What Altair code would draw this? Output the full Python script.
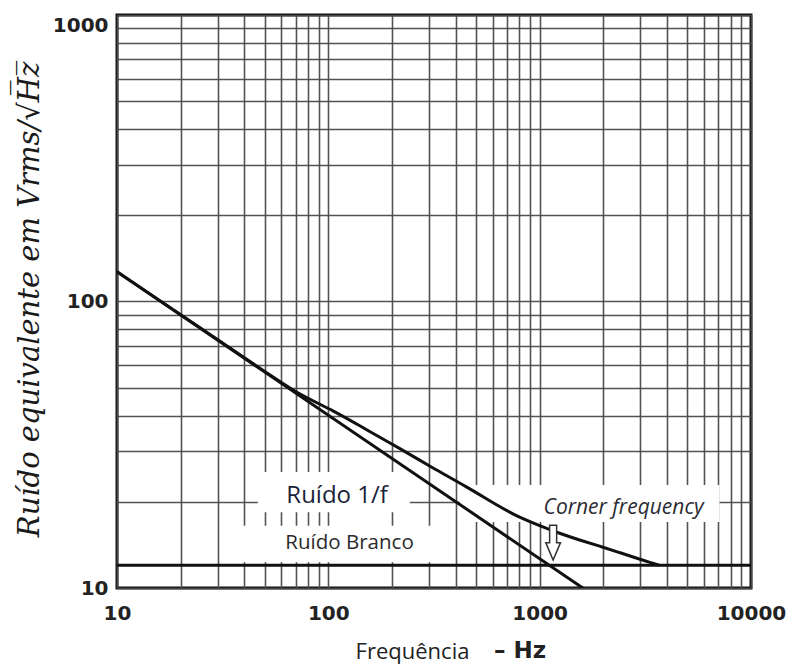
import altair as alt
import pandas as pd

# ---- data ----
x_grid = [10, 20, 30, 40, 50, 60, 70, 80, 90,
          100, 200, 300, 400, 500, 600, 700, 800, 900,
          1000, 2000, 3000, 4000, 5000, 6000, 7000, 8000, 9000, 10000]
y_grid = [10, 20, 30, 40, 50, 60, 70, 80, 90,
          100, 200, 300, 400, 500, 600, 700, 800, 900, 1000]
x_labels = [10, 100, 1000, 10000]
y_labels = [10, 100, 1000]

# 1/f noise line (end points)
flicker_f = [10, 1600]
flicker_v = [127, 10]

# white noise level
white_f = [10, 10000]
white_v = [12, 12]

# total noise curve
total_f = [10, 50, 73, 105, 152, 218, 313, 450, 647, 804, 1000, 1243, 1545, 1922, 2388, 2971, 3434, 3690]
total_v = [127, 57, 47.2, 41.8, 35.6, 30.7, 26.2, 22.6, 19.2, 17.6, 16.5, 15.5, 14.7, 14.0, 13.3, 12.6, 12.2, 12.0]

# white label boxes (erasing the grid behind the labels)
box_f1 = [46.4, 37.3, 419]
box_f2 = [243, 336, 7096]
box_v1 = [25.4, 16.5, 22.9]
box_v2 = [18.4, 12.3, 17.0]

# annotations
ann_text = ["Ruído 1/f", "Ruído Branco", "Corner frequency"]
ann_f = [110, 126, 2495]
ann_v = [20.9, 14.4, 19.0]

arrow_f = [1158]
arrow_v = [14.4]

W, H = 634, 573

xs = alt.Scale(type="log", domain=[10, 10000], nice=False)
ys = alt.Scale(type="log", domain=[10, 1000], nice=False)

xlab_expr = "indexof([" + ",".join(str(v) for v in x_labels) + "], datum.value) >= 0 ? format(datum.value, 'd') : ''"
ylab_expr = "indexof([" + ",".join(str(v) for v in y_labels) + "], datum.value) >= 0 ? format(datum.value, 'd') : ''"

GRID = dict(gridColor="#4a4a4a", gridWidth=1.6, gridOpacity=0.95)

xaxis = alt.Axis(values=x_grid, labelExpr=xlab_expr, grid=True, ticks=False, domain=False,
                 labelFont="DejaVu Sans", labelFontWeight="bold", labelFontSize=20,
                 labelColor="#222", labelPadding=15, labelFlush=False, labelOverlap=False,
                 title="Frequência", titleFont="Open Sans", titleFontSize=22,
                 titleFontWeight="normal", titleColor="#222", titleX=295, titleY=63,
                 titleAlign="center", titleBaseline="middle", **GRID)
yaxis = alt.Axis(values=y_grid, labelExpr=ylab_expr, grid=True, ticks=False, domain=False,
                 labelFont="DejaVu Sans", labelFontWeight="bold", labelFontSize=20,
                 labelColor="#222", labelPadding=9, labelOverlap=False,
                 labelBaseline=alt.expr("datum.value == 1000 ? 'top' : 'middle'"),
                 title="Ruído equivalente em Vrms/√H̅z̅", titleFont="DejaVu Serif",
                 titleFontStyle="italic", titleFontWeight="normal", titleFontSize=29,
                 titleColor="#1a1a1a", titleX=-88, titleY=284, titleAngle=270,
                 titleAlign="center", titleBaseline="middle", **GRID)

X = alt.X("f:Q", scale=xs, axis=xaxis)
Y = alt.Y("v:Q", scale=ys, axis=yaxis)

boxes = alt.Chart(pd.DataFrame({"f": box_f1, "f2": box_f2, "v": box_v1, "v2": box_v2})).mark_rect(
    color="white").encode(x=X, x2="f2:Q", y=Y, y2="v2:Q")

def line(fs, vs, **kw):
    return alt.Chart(pd.DataFrame({"f": fs, "v": vs})).mark_line(
        color="#111", strokeWidth=3, clip=True, **kw).encode(x=X, y=Y)

flicker = line(flicker_f, flicker_v)
white = line(white_f, white_v)
total = line(total_f, total_v, interpolate="basis")

ann = pd.DataFrame({"f": ann_f, "v": ann_v, "t": ann_text})
t1 = alt.Chart(ann.iloc[[0]]).mark_text(font="Open Sans", fontSize=24, color="#1b1f3a",
                                         baseline="middle").encode(x=X, y=Y, text="t:N")
t2 = alt.Chart(ann.iloc[[1]]).mark_text(font="Open Sans", fontSize=20.5, color="#2b2b2b",
                                         baseline="middle").encode(x=X, y=Y, text="t:N")
t3 = alt.Chart(ann.iloc[[2]]).mark_text(font="Open Sans", fontSize=21, fontStyle="italic",
                                         color="#2b2b33", baseline="middle").encode(x=X, y=Y, text="t:N")

arrow_path = "M -0.2 -1 L 0.2 -1 L 0.2 0 L 0.42 0 L 0 1 L -0.42 0 L -0.2 0 Z"
arrow = alt.Chart(pd.DataFrame({"f": arrow_f, "v": arrow_v})).mark_point(
    shape=arrow_path, size=1225, filled=True, fill="white", stroke="#333",
    strokeWidth=1.5, opacity=1).encode(x=X, y=Y)

hz = alt.Chart(pd.DataFrame({"t": ["–  Hz"]})).mark_text(
    font="DejaVu Sans", fontWeight="bold", fontSize=23, color="#222",
    align="center", baseline="middle").encode(
    x=alt.value(403), y=alt.value(636), text="t:N")

chart = alt.layer(boxes, flicker, white, total, t1, t2, t3, arrow, hz).properties(
    width=W, height=H,
    autosize=alt.AutoSizeParams(type="none"),
    padding={"left": 117, "top": 15, "right": 36, "bottom": 76},
    background="white",
).configure_view(stroke="#111", strokeWidth=3)

chart.save("out.html", embed_options={"renderer": "svg", "actions": False})
